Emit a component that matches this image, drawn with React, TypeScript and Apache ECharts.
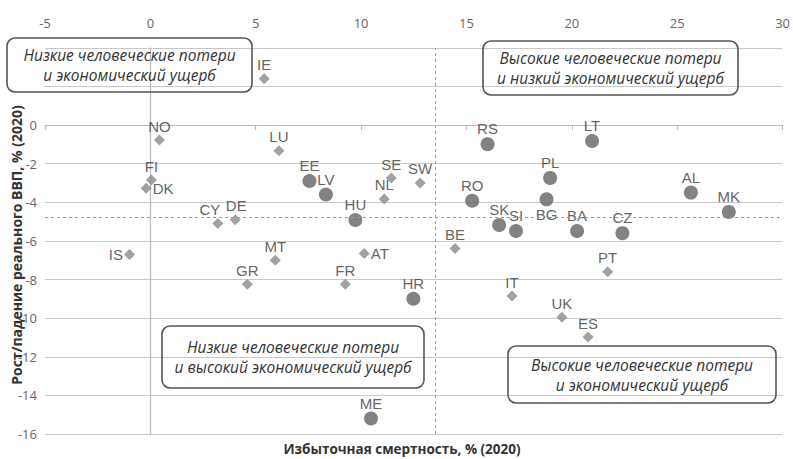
import React, { useEffect, useRef } from "react";
import * as echarts from "echarts";

// Circles (dark markers)
const circleNames = ["EE", "LV", "HU", "RS", "LT", "PL", "RO", "BG", "SK", "SI", "BA", "CZ", "AL", "MK", "HR", "ME"];
const circleX = [7.55, 8.33, 9.73, 16.0, 20.96, 18.97, 15.27, 18.8, 16.55, 17.35, 20.25, 22.4, 25.65, 27.45, 12.48, 10.47];
const circleY = [-2.9, -3.6, -4.92, -1.0, -0.83, -2.74, -3.92, -3.85, -5.18, -5.49, -5.49, -5.6, -3.5, -4.5, -9.0, -15.2];

// Diamonds (light markers)
const diamondNames = ["IE", "NO", "LU", "FI", "DK", "SE", "NL", "SW", "CY", "DE", "IS", "MT", "AT", "GR", "FR", "BE", "PT", "IT", "UK", "ES"];
const diamondX = [5.4, 0.43, 6.1, 0.05, -0.2, 11.43, 11.1, 12.8, 3.2, 4.03, -0.99, 5.93, 10.15, 4.6, 9.25, 14.46, 21.7, 17.16, 19.53, 20.77];
const diamondY = [2.4, -0.78, -1.33, -2.85, -3.27, -2.75, -3.83, -3.0, -5.1, -4.9, -6.7, -7.0, -6.65, -8.25, -8.25, -6.4, -7.6, -8.86, -9.95, -10.98];

const labelPos: Record<string, string> = { DK: "right", IS: "left", AT: "right", BG: "bottom" };
const labelShift: Record<string, number[]> = { CY: [-8, 0], DE: [1, 0] };

const xTicks = { min: -5, max: 30, interval: 5 };
const yTicks = { min: -16, max: 4, interval: 2 };
const thresholdX = 13.5;
const thresholdY = -4.8;

const xTitle = "Избыточная смертность, % (2020)";
const yTitle = "Рост/падение реального ВВП, % (2020)";
const boxes = [
  { lines: ["Низкие человеческие потери", "и экономический ущерб"], x: 7, y: 38, w: 245, h: 54 },
  { lines: ["Высокие человеческие потери", "и низкий экономический ущерб"], x: 483, y: 41, w: 255, h: 54 },
  { lines: ["Низкие человеческие потери", "и высокий экономический ущерб"], x: 162, y: 326, w: 262, h: 62 },
  { lines: ["Высокие человеческие потери", "и экономический ущерб"], x: 508, y: 346, w: 268, h: 57 },
];

export default function App() {
  const ref = useRef<HTMLDivElement>(null);
  useEffect(() => {
    if (!ref.current) return;
    const chart = echarts.init(ref.current, null, { renderer: "svg" });
    const mk = (names: string[], xs: number[], ys: number[]) =>
      names.map((n, i) => ({
        name: n,
        value: [xs[i], ys[i]],
        label: { position: labelPos[n] || "top", offset: labelShift[n] || [0, 0] },
      }));
    const labelStyle = {
      show: true,
      formatter: "{b}",
      fontFamily: "Liberation Sans, Arial, sans-serif",
      fontSize: 15,
      color: "#3a3a3a",
      distance: 1,
    };
    const graphics: any[] = [];
    boxes.forEach((b) => {
      graphics.push({
        type: "rect",
        shape: { x: b.x, y: b.y, width: b.w, height: b.h, r: 8 },
        style: { fill: "none", stroke: "#555", lineWidth: 1.6 },
        z: 10,
      });
      b.lines.forEach((l, i) => {
        graphics.push({
          type: "text",
          x: b.x + b.w / 2,
          y: b.y + b.h / 2 + (i === 0 ? -10 : 10),
          style: {
            text: l,
            fill: "#333",
            font: "italic 15.5px 'Open Sans', sans-serif",
            textAlign: "center",
            textVerticalAlign: "middle",
          },
          z: 10,
        });
      });
    });
    graphics.push({
      type: "text",
      x: 402,
      y: 449,
      style: {
        text: xTitle,
        fill: "#333",
        font: "bold 13.5px 'Open Sans', sans-serif",
        textAlign: "center",
        textVerticalAlign: "middle",
      },
    });
    graphics.push({
      type: "text",
      x: 16,
      y: 245,
      rotation: Math.PI / 2,
      style: {
        text: yTitle,
        fill: "#333",
        font: "bold 14px 'Open Sans', sans-serif",
        textAlign: "center",
        textVerticalAlign: "middle",
      },
    });

    chart.setOption({
      animation: false,
      grid: { left: 45, right: 10, top: 47.75, height: 386.25, containLabel: false },
      xAxis: [
        {
          type: "value",
          position: "top",
          ...xTicks,
          axisLine: { show: false, onZero: false },
          axisTick: { show: false },
          splitLine: { show: false },
          axisLabel: { color: "#666", fontSize: 13, fontFamily: "'Open Sans', sans-serif", margin: 18 },
        },
        {
          type: "value",
          position: "bottom",
          ...xTicks,
          axisLine: { show: true, onZero: true, lineStyle: { color: "#bbb", width: 1.2 } },
          axisTick: { show: true, length: 5, lineStyle: { color: "#bbb" } },
          axisLabel: { show: false },
          splitLine: { show: false },
        },
      ],
      yAxis: {
        type: "value",
        ...yTicks,
        axisLine: { show: true, onZero: true, lineStyle: { color: "#bbb", width: 1.2 } },
        axisTick: { show: false },
        axisLabel: {
          color: "#666",
          fontSize: 13,
          fontFamily: "'Open Sans', sans-serif",
          margin: 8,
          formatter: (v: number) => (v > 0 ? "" : String(v)),
        },
        splitLine: { show: true, lineStyle: { color: "#c8c8c8", width: 1.2 } },
      },
      series: [
        {
          type: "scatter",
          symbol: "diamond",
          symbolSize: 11,
          itemStyle: { color: "#8a8a8a" },
          label: labelStyle,
          data: mk(diamondNames, diamondX, diamondY),
          markLine: {
            silent: true,
            symbol: "none",
            label: { show: false },
            lineStyle: { color: "#999", type: [3, 3], width: 1 },
            data: [{ xAxis: thresholdX }, { yAxis: thresholdY }],
          },
        },
        {
          type: "scatter",
          symbol: "circle",
          symbolSize: 14,
          itemStyle: { color: "#636363" },
          label: labelStyle,
          data: mk(circleNames, circleX, circleY),
        },
      ],
      graphic: graphics,
    });
    return () => chart.dispose();
  }, []);
  return <div ref={ref} style={{ width: 793, height: 459, position: "absolute", left: 0, top: 0, background: "#fff" }} />;
}
